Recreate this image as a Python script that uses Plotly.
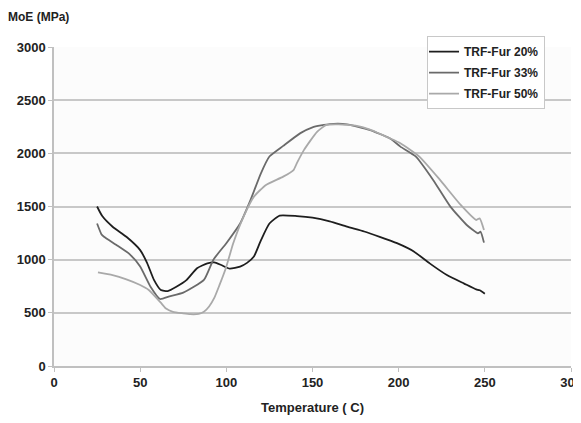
import plotly.graph_objects as go

# Temperature (C) and MoE (MPa)
temp_20 = [25, 28, 34, 42, 50, 54, 58, 62, 66, 71, 77, 83, 89, 93, 97, 102, 108, 112, 116,
           120, 125, 131, 141, 150, 160, 170, 180, 189, 199, 209, 218, 228, 238, 245, 247, 250]
moe_20 = [1500, 1410, 1310, 1215, 1090, 970, 810, 715, 705, 745, 810, 920, 965, 975, 950, 915,
          935, 970, 1030, 1180, 1340, 1415, 1410, 1395, 1360, 1310, 1265, 1215, 1155, 1075, 965,
          855, 775, 720, 712, 680]

temp_33 = [25, 27.5, 29, 36, 44, 50, 56, 61.5, 67, 75, 87, 92.5, 100, 108, 114, 120, 125, 133,
           143, 150, 160, 170, 183, 195, 201, 210, 220, 230, 239.5, 246, 247.5, 249.5]
moe_33 = [1340, 1240, 1215, 1140, 1050, 935, 745, 630, 655, 690, 810, 1000, 1155, 1340, 1560,
          1810, 1970, 2070, 2190, 2245, 2275, 2273, 2220, 2140, 2063, 1969, 1750, 1499, 1326,
          1248, 1263, 1160]

temp_50 = [25.5, 34, 42, 50, 55, 62, 65, 69, 75, 79, 84, 87, 90, 93, 96, 100, 104, 110, 116,
           123, 133, 139, 141, 145, 152.5, 158, 165, 175, 183, 195, 201, 212, 224, 236, 245,
           247, 249.5]
moe_50 = [880, 855, 815, 762, 715, 595, 540, 510, 495, 487, 490, 510, 560, 640, 760, 934, 1154,
          1405, 1593, 1703, 1781, 1843, 1910, 2030, 2200, 2267, 2273, 2260, 2226, 2141, 2095,
          1969, 1750, 1515, 1373, 1389, 1279]

series = [
    ("TRF-Fur 20%", temp_20, moe_20, "#1e1e1e"),
    ("TRF-Fur 33%", temp_33, moe_33, "#6a6a6a"),
    ("TRF-Fur 50%", temp_50, moe_50, "#a9a9a9"),
]

x_ticks = [0, 50, 100, 150, 200, 250, 300]
y_ticks = [0, 500, 1000, 1500, 2000, 2500, 3000]

FONT = "Liberation Sans, Arial, sans-serif"

fig = go.Figure()
for name, xs, ys, col in series:
    fig.add_trace(go.Scatter(
        x=xs, y=ys, name=name, mode="lines", legendgroup=name,
        line=dict(color=col, width=1.8, shape="spline", smoothing=0.5),
    ))

fig.update_layout(
    width=573, height=415,
    margin=dict(l=46, r=10, t=39, b=57, autoexpand=False),
    paper_bgcolor="#ffffff",
    plot_bgcolor="#fcfcfc",
    font=dict(family=FONT, size=12, color="#222222"),
    showlegend=True,
    legend=dict(
        x=0.7215, y=1.034, xanchor="left", yanchor="top",
        bgcolor="#ffffff", bordercolor="#c8c8c8", borderwidth=1,
        font=dict(family=FONT, size=12, color="#222222", weight="bold"),
        itemwidth=30, traceorder="grouped", tracegroupgap=2, indentation=-4,
    ),
    xaxis=dict(
        range=[0, 300], tickvals=x_ticks, ticktext=[str(v) for v in x_ticks],
        showgrid=False, zeroline=False, automargin=False, ticklabeloverflow="allow",
        showline=True, linecolor="#c0c0c0", linewidth=1.5,
        ticks="outside", ticklen=4, tickcolor="#c0c0c0",
        tickfont=dict(family=FONT, size=13, color="#222222", weight="bold"),
        title=dict(text="Temperature ( C)", standoff=14,
                   font=dict(family=FONT, size=13, color="#222222", weight="bold")),
    ),
    yaxis=dict(
        range=[0, 3000], tickvals=y_ticks, ticktext=[str(v) for v in y_ticks],
        showgrid=True, gridcolor="#c8c8c8", gridwidth=1.5, zeroline=False, automargin=False,
        showline=True, linecolor="#c0c0c0", linewidth=1.5,
        ticks="outside", ticklen=4, tickcolor="#c0c0c0",
        tickfont=dict(family=FONT, size=13, color="#222222", weight="bold"),
    ),
    annotations=[dict(
        text="MoE (MPa)", xref="paper", yref="paper", x=-0.092, y=1.094,
        xanchor="left", yanchor="middle", showarrow=False,
        font=dict(family=FONT, size=12, color="#222222", weight="bold"),
    )],
)

fig.write_html("out.html")
